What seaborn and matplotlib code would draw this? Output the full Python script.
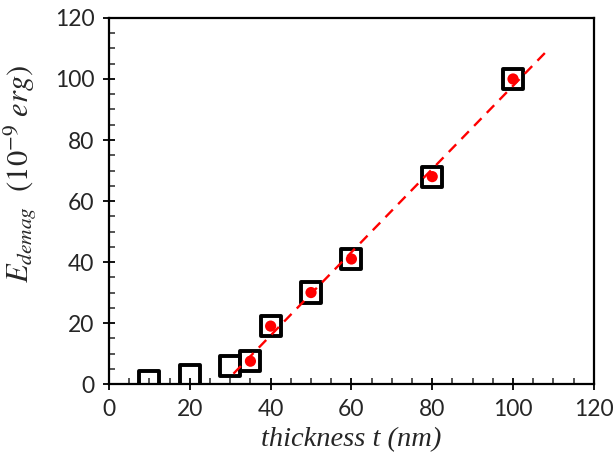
import matplotlib
matplotlib.use("Agg")
import matplotlib.pyplot as plt
from matplotlib.ticker import MultipleLocator
import pandas as pd
import seaborn as sns

# simulation (open squares) and model (red dots)
thickness_sim = [10, 20, 30, 35, 40, 50, 60, 80, 100]
edemag_sim = [0.9, 3.0, 5.8, 7.5, 19.0, 30.0, 41.0, 68.0, 100.0]

thickness_model = [35, 40, 50, 60, 80, 100]
edemag_model = [7.5, 19.0, 30.0, 41.0, 68.0, 100.0]

# dashed linear fit
fit_x = [30.8, 108.9]
fit_y = [3.4, 109.9]

sns.set_style("ticks")
plt.rcParams["font.family"] = ["Lato", "DejaVu Sans"]
plt.rcParams["mathtext.fontset"] = "stix"

sim = pd.DataFrame({"t": thickness_sim, "E": edemag_sim})
mod = pd.DataFrame({"t": thickness_model, "E": edemag_model})
fit = pd.DataFrame({"t": fit_x, "E": fit_y})

fig = plt.figure(figsize=(6.16, 4.73), dpi=100)
ax = fig.add_axes([0.177, 0.188, 0.787, 0.774])

sns.scatterplot(data=sim, x="t", y="E", ax=ax, marker="s", s=210,
                facecolor="none", edgecolor="black", linewidth=2.8, zorder=2)
sns.lineplot(data=fit, x="t", y="E", ax=ax, color="red", linewidth=1.7, zorder=3)
ax.lines[-1].set_dashes((4.5, 3.2))
sns.scatterplot(data=mod, x="t", y="E", ax=ax, color="red", s=65,
                edgecolor="none", zorder=4)

ax.set_xlim(0, 120)
ax.set_ylim(0, 120)
ax.xaxis.set_major_locator(MultipleLocator(20))
ax.yaxis.set_major_locator(MultipleLocator(20))
ax.xaxis.set_minor_locator(MultipleLocator(5))
ax.yaxis.set_minor_locator(MultipleLocator(5))
ax.tick_params(which="major", direction="inout", length=9, width=1.3,
               labelsize=16.5, pad=6, color="black")
ax.tick_params(which="minor", direction="in", length=4.5, width=1.1)
for s in ax.spines.values():
    s.set_linewidth(1.6)
    s.set_color("black")

ax.set_xlabel("thickness t (nm)", family=["Liberation Serif", "DejaVu Serif"],
              style="italic", fontsize=20.5, labelpad=5)
ax.set_ylabel(r"$E_{demag}\ \ (10^{-9}\ erg)$", fontsize=22)
ax.yaxis.set_label_coords(-0.145, 0.575)

fig.savefig("out.png", dpi=100)
